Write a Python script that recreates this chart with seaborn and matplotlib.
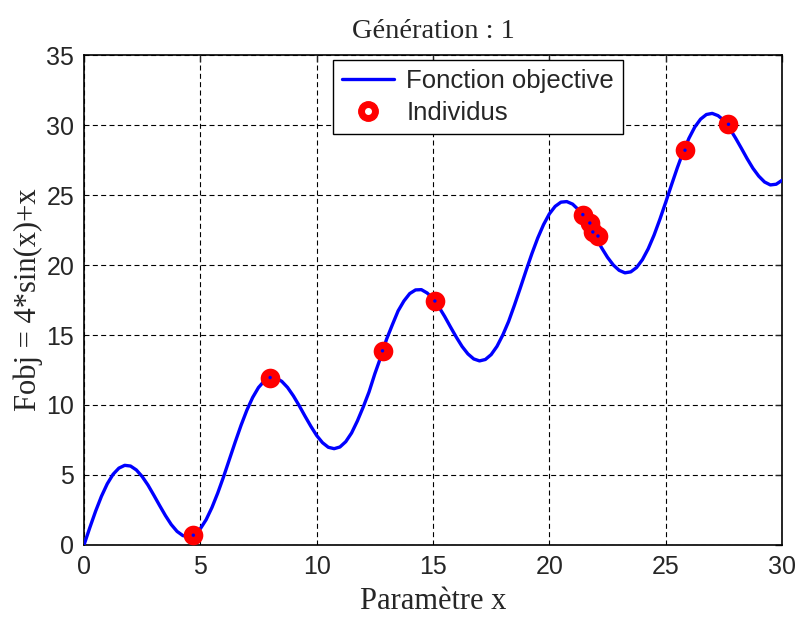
import numpy as np
import pandas as pd
import matplotlib
matplotlib.use("Agg")
import matplotlib.pyplot as plt
import seaborn as sns
from matplotlib.lines import Line2D
from matplotlib.legend_handler import HandlerTuple

# Curve values
x_curve = [0, 0.25, 0.5, 0.75, 1, 1.25, 1.5, 1.75, 2, 2.25, 2.5, 2.75, 3, 3.25, 3.5, 3.75,
           4, 4.25, 4.5, 4.75, 5, 5.25, 5.5, 5.75, 6, 6.25, 6.5, 6.75, 7, 7.25, 7.5, 7.75,
           8, 8.25, 8.5, 8.75, 9, 9.25, 9.5, 9.75, 10, 10.25, 10.5, 10.75, 11, 11.25, 11.5,
           11.75, 12, 12.25, 12.5, 12.75, 13, 13.25, 13.5, 13.75, 14, 14.25, 14.5, 14.75,
           15, 15.25, 15.5, 15.75, 16, 16.25, 16.5, 16.75, 17, 17.25, 17.5, 17.75, 18,
           18.25, 18.5, 18.75, 19, 19.25, 19.5, 19.75, 20, 20.25, 20.5, 20.75, 21, 21.25,
           21.5, 21.75, 22, 22.25, 22.5, 22.75, 23, 23.25, 23.5, 23.75, 24, 24.25, 24.5,
           24.75, 25, 25.25, 25.5, 25.75, 26, 26.25, 26.5, 26.75, 27, 27.25, 27.5, 27.75,
           28, 28.25, 28.5, 28.75, 29, 29.25, 29.5, 29.75, 30]
y_curve = [0.00, 1.24, 2.42, 3.48, 4.37, 5.05, 5.49, 5.69, 5.64, 5.36, 4.89, 4.28, 3.56,
           2.82, 2.10, 1.46, 0.97, 0.67, 0.59, 0.75, 1.16, 1.81, 2.68, 3.72, 4.88, 6.12,
           7.36, 8.55, 9.63, 10.54, 11.25, 11.72, 11.96, 11.93, 11.69, 11.25, 10.65, 9.95,
           9.20, 8.48, 7.82, 7.31, 6.98, 6.88, 7.00, 7.38, 8.00, 8.86, 9.85, 10.93, 12.23,
           13.40, 14.68, 15.72, 16.72, 17.43, 17.96, 18.22, 18.24, 18.00, 17.60, 17.01,
           16.33, 15.58, 14.85, 14.18, 13.65, 13.29, 13.15, 13.25, 13.60, 14.19, 15.00,
           15.97, 17.13, 18.35, 19.60, 20.81, 21.92, 22.88, 23.65, 24.19, 24.49, 24.53,
           24.35, 23.95, 23.39, 22.71, 21.96, 21.22, 20.55, 20.00, 19.62, 19.44, 19.51,
           19.82, 20.38, 21.16, 22.13, 23.26, 24.47, 25.72, 26.94, 28.07, 29.05, 29.85,
           30.42, 30.75, 30.83, 30.67, 30.33, 29.75, 29.08, 28.35, 27.60, 26.91, 26.35,
           25.93, 25.72, 25.77, 26.05]

# Individuals
x_ind = [4.70, 8.00, 12.83, 15.08, 21.44, 21.74, 21.87, 22.09, 25.83, 27.70]
y_ind = [0.70, 11.96, 13.87, 17.43, 23.60, 23.00, 22.36, 22.07, 28.20, 30.05]

x_ticks = [0, 5, 10, 15, 20, 25, 30]
y_ticks = [0, 5, 10, 15, 20, 25, 30, 35]

sns.set_style("white")
plt.rcParams['font.family'] = ['Liberation Sans', 'DejaVu Sans']

fig = plt.figure(figsize=(8, 6.21), dpi=100)
ax = fig.add_axes([0.105, 0.1224, 0.8725, 0.789])

curve_df = pd.DataFrame({"x": x_curve, "y": y_curve})
ind_df = pd.DataFrame({"x": x_ind, "y": y_ind})

sns.lineplot(data=curve_df, x="x", y="y", ax=ax, color="#0000ff", linewidth=2.4,
             sort=False, estimator=None, zorder=3)
sns.scatterplot(data=ind_df, x="x", y="y", ax=ax, color="#ff0000", s=200,
                edgecolor="#ff0000", linewidth=0, zorder=4)
sns.scatterplot(data=ind_df, x="x", y="y", ax=ax, color="#0000ff", s=6,
                edgecolor="none", zorder=5)

ax.set_xlim(0, 30)
ax.set_ylim(0, 35)
ax.set_xticks(x_ticks)
ax.set_yticks(y_ticks)
ax.tick_params(axis="both", labelsize=18, direction="in", length=5, width=1,
               top=True, right=True, pad=7)
ax.grid(True, color="black", linestyle=(0, (4.5, 3)), linewidth=0.8)
for s in ax.spines.values():
    s.set_color("black")
    s.set_linewidth(1.2)

serif = ['Liberation Serif', 'DejaVu Serif']
ax.set_title("Génération : 1", family=serif, fontsize=20.5, pad=12)
ax.set_xlabel("Paramètre x", family=serif, fontsize=22, labelpad=6)
ax.set_ylabel("Fobj = 4*sin(x)+x", family=serif, fontsize=22, labelpad=2)

h_line = Line2D([], [], color="#0000ff", linewidth=2.4)
h_red = Line2D([], [], linestyle="none", marker="o", markersize=14,
               markerfacecolor="#ff0000", markeredgecolor="#ff0000")
h_dot = Line2D([], [], linestyle="none", marker="o", markersize=4,
               markerfacecolor="white", markeredgecolor="white")
leg = ax.legend([h_line, (h_red, h_dot)], ["Fonction objective", "Individus"],
                handler_map={tuple: HandlerTuple(ndivide=1, pad=0)},
                loc="upper left", bbox_to_anchor=(0.357, 0.99), fontsize=18.5,
                frameon=True, fancybox=False, framealpha=1, edgecolor="black",
                handlelength=2.0, borderpad=0.35, labelspacing=0.3,
                handletextpad=0.5, borderaxespad=0.0)
leg.get_frame().set_linewidth(1.0)

fig.savefig("out.png", dpi=100)
